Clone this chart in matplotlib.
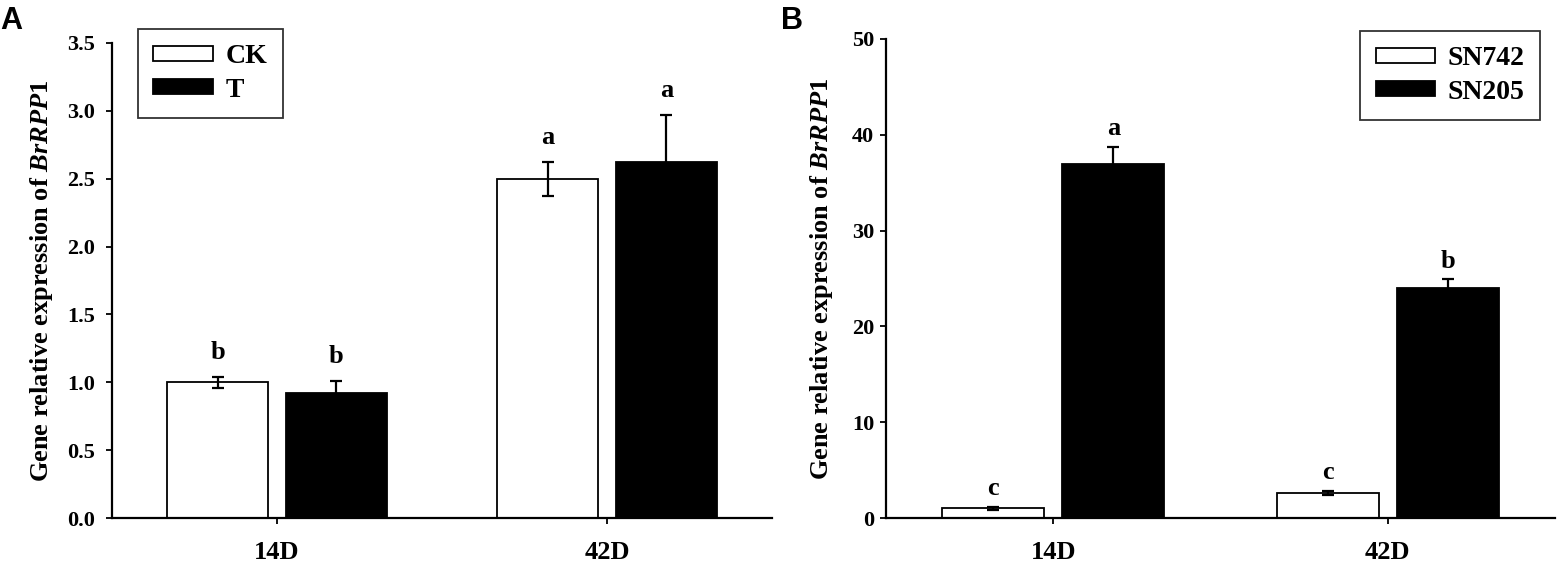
import numpy as np
import matplotlib
matplotlib.use('Agg')
import matplotlib.pyplot as plt

plt.rcParams['font.family'] = 'Liberation Serif'
plt.rcParams['font.weight'] = 'bold'
plt.rcParams['mathtext.fontset'] = 'custom'
plt.rcParams['mathtext.it'] = 'Liberation Serif:italic:bold'
plt.rcParams['mathtext.rm'] = 'Liberation Serif:bold'

days = ['14D', '42D']

# panel A
a_names = ['CK', 'T']
a_vals = [[1.00, 2.50], [0.92, 2.62]]
a_errs = [[0.04, 0.125], [0.09, 0.35]]
a_letters = [['b', 'a'], ['b', 'a']]

# panel B
b_names = ['SN742', 'SN205']
b_vals = [[1.0, 2.6], [37.0, 24.0]]
b_errs = [[0.15, 0.2], [1.7, 0.9]]
b_letters = [['c', 'c'], ['a', 'b']]

W, H = 1558, 564
fig = plt.figure(figsize=(W / 100, H / 100), dpi=100)

def panel(rect, names, vals, errs, letters, ymax, ystep, fmt, legloc, legpos, ypad, lab_off, lab_x, tag, tag_x):
	ax = fig.add_axes(rect)
	x = np.arange(len(days))
	width = 0.305
	offs = [-0.18, 0.18]
	colors = ['white', 'black']
	for i in range(2):
		ax.bar(x + offs[i], vals[i], width, color=colors[i], edgecolor='black',
			linewidth=1.3, label=names[i], zorder=2)
		ax.errorbar(x + offs[i], vals[i], yerr=errs[i], fmt='none', ecolor='black',
			elinewidth=1.6, capsize=4.5, capthick=1.6, zorder=3)
		for j in range(len(days)):
			ax.annotate(letters[i][j], (x[j] + offs[i], vals[i][j] + errs[i][j]),
				xytext=(0, lab_off), textcoords='offset points', ha='center', va='bottom',
				fontsize=19, fontweight='bold')
	ax.set_xlim(-0.5, 1.5)
	ax.set_ylim(0, ymax)
	ax.set_yticks(np.arange(0, ymax + ystep / 2, ystep))
	ax.set_yticklabels([fmt % v for v in np.arange(0, ymax + ystep / 2, ystep)])
	ax.set_xticks(x)
	ax.set_xticklabels(days)
	for s in ['top', 'right']:
		ax.spines[s].set_visible(False)
	for s in ['left', 'bottom']:
		ax.spines[s].set_linewidth(1.6)
	ax.tick_params(axis='y', direction='out', length=4.5, width=1.3, labelsize=16, pad=ypad)
	ax.tick_params(axis='x', direction='out', length=4.5, width=1.3, labelsize=19, pad=12)
	ax.set_ylabel('Gene relative expression of $\\mathit{BrRPP1}$', fontsize=19, fontweight='bold')
	ax.yaxis.set_label_coords(lab_x, 0.5)
	leg = ax.legend(loc=legloc, bbox_to_anchor=legpos, bbox_transform=fig.transFigure,
		fontsize=20, frameon=True, fancybox=False, edgecolor='black',
		handlelength=2.15, handleheight=0.47, borderpad=0.55, labelspacing=0.3, handletextpad=0.45,
		borderaxespad=0)
	leg.get_frame().set_linewidth(1.3)
	fig.text(tag_x, 0.99, tag, ha='left', va='top', fontsize=22, fontweight='bold',
		family='Liberation Sans')
	return ax

panel([112 / W, 46 / H, 660 / W, 475 / H], a_names, a_vals, a_errs, a_letters,
	3.5, 0.5, '%.1f', 'upper left', (138 / W, 1 - 29 / H), 8, 9, -0.086, 'A', 0.0)
panel([886 / W, 46 / H, 669 / W, 479 / H], b_names, b_vals, b_errs, b_letters,
	50, 10, '%d', 'upper right', (1540 / W, 1 - 31 / H), 4, 5, -0.076, 'B', 0.5015)

fig.savefig('out.png', dpi=100)
